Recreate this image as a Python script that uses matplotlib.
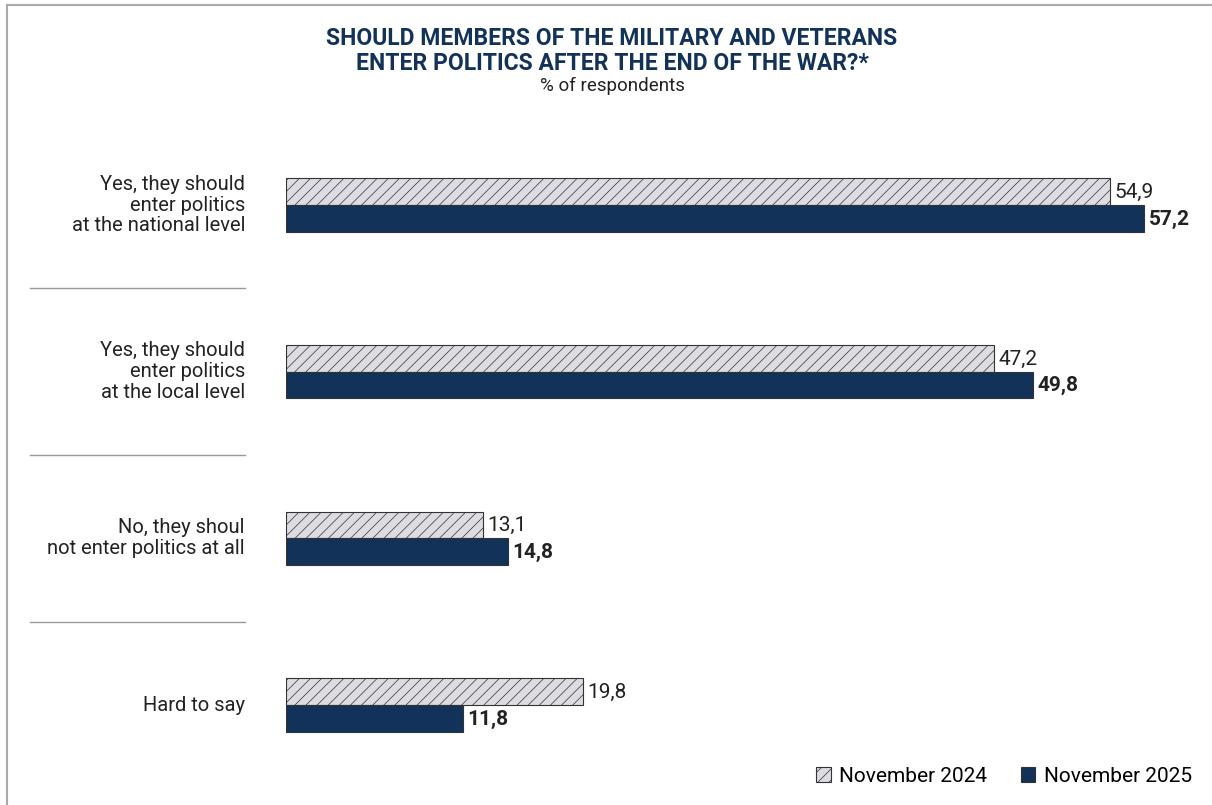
import matplotlib
matplotlib.use('Agg')
import matplotlib.pyplot as plt
from matplotlib.transforms import blended_transform_factory
from matplotlib.patches import Patch
import numpy as np

categories = ['Yes, they should\nenter politics\nat the national level',
              'Yes, they should\nenter politics\nat the local level',
              'No, they shoul\nnot enter politics at all',
              'Hard to say']
nov_2024 = [54.9, 47.2, 13.1, 19.8]
nov_2025 = [57.2, 49.8, 14.8, 11.8]
series_names = ['November 2024', 'November 2025']

NAVY = '#12325a'
GRAY = '#dcdce2'
TEXT = '#222222'

plt.rcParams['font.family'] = ['Roboto', 'DejaVu Sans']
plt.rcParams['hatch.linewidth'] = 0.5
plt.rcParams['hatch.color'] = '#808080'

fig = plt.figure(figsize=(12.12, 8.05), dpi=100)
W, H = 1212, 805
# axes from x=286..1186 px, y=150..760 px
ax = fig.add_axes([286 / W, 1 - 760 / H, 900 / W, 610 / H])
ax.set_xlim(0, 60)
ax.set_ylim(3.33, -0.33)
ax.axis('off')

y = np.arange(len(categories))
h = 0.16
ax.barh(y - 0.08, nov_2024, height=h, color=GRAY, edgecolor='#333333',
        linewidth=0.8, hatch='///')
ax.barh(y + 0.08, nov_2025, height=h, color=NAVY, edgecolor='#333333',
        linewidth=0.8)

for yi, v in zip(y, nov_2024):
    ax.text(v + 0.3, yi - 0.075, f'{v:.1f}'.replace('.', ','), va='center',
            ha='left', fontsize=15, color=TEXT)
for yi, v in zip(y, nov_2025):
    ax.text(v + 0.3, yi + 0.085, f'{v:.1f}'.replace('.', ','), va='center',
            ha='left', fontsize=15, color=TEXT, fontweight='bold')

trans = blended_transform_factory(fig.transFigure, ax.transData)
for yi, lab in zip(y, categories):
    ax.text(245 / W, yi, lab, transform=trans, ha='right', va='center',
            fontsize=14.5, color=TEXT, linespacing=1.12, clip_on=False)
for yi in y[:-1] + 0.5:
    ax.plot([30 / W, 245 / W], [yi, yi], transform=trans, color='#999999',
            linewidth=1.0, clip_on=False)

# frame (top and left only)
fig.add_artist(plt.Line2D([7 / W, 1], [1 - 5 / H, 1 - 5 / H], color='#aaaaaa',
                          linewidth=1.5, transform=fig.transFigure))
fig.add_artist(plt.Line2D([7 / W, 7 / W], [0, 1 - 5 / H], color='#aaaaaa',
                          linewidth=1.5, transform=fig.transFigure))

fig.text(612 / W, 1 - 51 / H,
         'SHOULD MEMBERS OF THE MILITARY AND VETERANS\nENTER POLITICS AFTER THE END OF THE WAR?*',
         ha='center', va='center', fontsize=16.5, fontweight='bold', color=NAVY,
         linespacing=1.08)
fig.text(612 / W, 1 - 86 / H, '% of respondents', ha='center', va='center',
         fontsize=13.5, color=TEXT)

handles = [Patch(facecolor=GRAY, edgecolor='#333333', hatch='///', linewidth=0.8),
           Patch(facecolor=NAVY, edgecolor='#333333', linewidth=0.8)]
fig.legend(handles, series_names, loc='center right',
           bbox_to_anchor=(1200 / W, 1 - 776 / H), ncol=2, frameon=False,
           fontsize=15, handlelength=0.7, handleheight=0.7,
           handletextpad=0.4, columnspacing=1.6, borderaxespad=0)

fig.savefig('out.png', dpi=100)
